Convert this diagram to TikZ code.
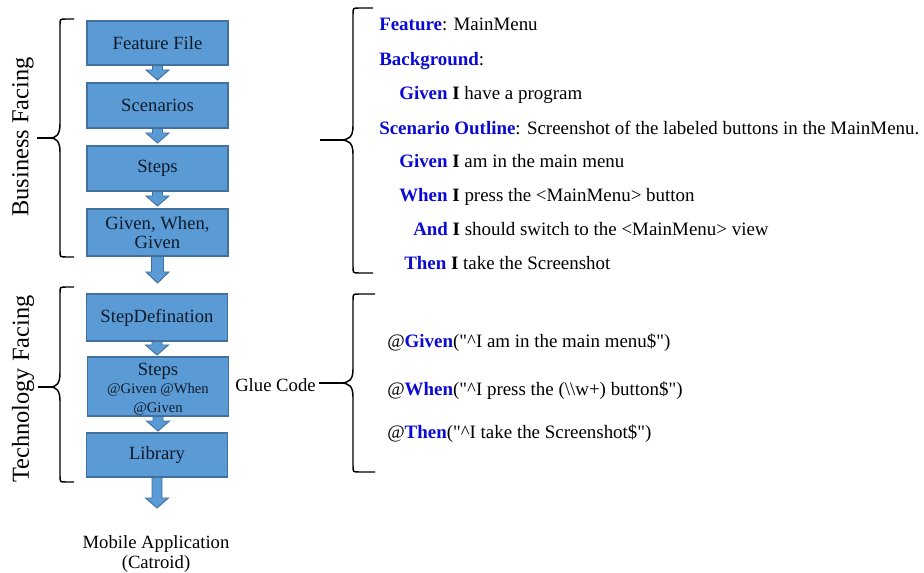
\documentclass[tikz,border=0pt]{standalone}
\usepackage{fontspec}
\setmainfont{Liberation Serif}
\newfontfamily\codefont[Ligatures=TeXOff]{Liberation Serif}
\usetikzlibrary{calc}
\definecolor{boxfill}{HTML}{5B9BD5}
\definecolor{boxline}{HTML}{41719C}
\definecolor{kw}{RGB}{10,10,210}
\definecolor{boxtext}{HTML}{0F1A2A}
\newcommand\kwd[1]{\textcolor{kw}{\textbf{#1}}}
\newcommand\qd{\symbol{34}}
\newcommand\blockarrow[5]{%
  \path[barrow] let \p1=(#1), \p2=(#2) in
   (\x1-#3*0.75pt,\y1) -- (\x1-#3*0.75pt,\y2+#5*0.75pt) -- (\x1-#4*0.75pt,\y2+#5*0.75pt)
   -- (\x1,\y2) -- (\x1+#4*0.75pt,\y2+#5*0.75pt) -- (\x1+#3*0.75pt,\y2+#5*0.75pt)
   -- (\x1+#3*0.75pt,\y1) -- cycle;}
% #1 xr, #2 xv, #3 xt, #4 tail, #5 yt, #6 ym, #7 yb
\newcommand\curlyb[7]{%
  \draw[bracepath] (#1,#5) -- (#2+6,#5) .. controls (#2,#5) .. (#2,#5+6)
    -- (#2,#6-14) .. controls (#2,#6-3) and (#2-4,#6) .. (#3,#6)
    .. controls (#2-4,#6) and (#2,#6+3) .. (#2,#6+14)
    -- (#2,#7-6) .. controls (#2,#7) .. (#2+6,#7) -- (#1,#7);
  \draw[bracepath] (#3,#6) -- (#4,#6);}
\tikzset{
  box/.style={draw=boxline, fill=boxfill, line width=0.9pt, minimum width=105.75pt,
    text=boxtext, font=\fontsize{14}{16}\selectfont, align=center, inner sep=0pt},
  barrow/.style={draw=boxline, fill=boxfill, line width=0.7pt},
  bracepath/.style={draw=black, line width=1.1pt},
  code/.style={anchor=base west, inner sep=0pt, font=\codefont\fontsize{14.2}{16}\selectfont},
  side/.style={rotate=90, inner sep=0pt, font=\fontsize{18.3}{20}\selectfont},
  plain/.style={inner sep=0pt, font=\fontsize{14}{16}\selectfont}
}
\begin{document}
\begin{tikzpicture}[x=0.75pt,y=-0.75pt]
\useasboundingbox (0,0) rectangle (924,573);
% boxes
\node[box, minimum height=33pt] (ff) at (157.5,43) {Feature File};
\node[box, minimum height=33.75pt] (sc) at (157.5,105.5) {Scenarios};
\node[box, minimum height=33.75pt] (st) at (157.5,168.5) {Steps};
\node[box, minimum height=35.25pt] (gwg) at (157.5,232.5) {Given, When,\\[-2pt]Given};
\node[box, minimum height=35.25pt] (sd) at (157,317.5) {StepDefination};
\node[box, minimum height=44.25pt] (st2) at (158,386.5) {};
\node[plain, anchor=base, text=boxtext] (st2a) at (158,375) {Steps};
\node[plain, anchor=base, text=boxtext, font=\fontsize{11}{12}\selectfont] (st2b) at (158,393) {@Given @When};
\node[plain, anchor=base, text=boxtext, font=\fontsize{11}{12}\selectfont] (st2c) at (158,412) {@Given};
\node[box, minimum height=33pt] (lib) at (157,455) {Library};
% arrows
\coordinate (t1) at (157.5,80);
\coordinate (t2) at (157.5,143);
\coordinate (t3) at (157.5,206);
\coordinate (t4) at (158,283);
\coordinate (t5) at (157,355);
\coordinate (t6) at (157,431);
\coordinate (t7) at (157,508);
\blockarrow{ff.south}{t1}{5}{11.5}{10}
\blockarrow{sc.south}{t2}{5}{11.5}{10}
\blockarrow{st.south}{t3}{5}{11.5}{10}
\blockarrow{gwg.south}{t4}{6}{11.5}{11}
\blockarrow{sd.south}{t5}{5}{11.5}{10}
\blockarrow{st2.south}{t6}{5}{11.5}{10}
\blockarrow{lib.south}{t7}{5}{11.5}{10}
\node[plain, anchor=base] (mob) at (156,548) {Mobile Application};
\node[plain, anchor=base] (cat) at (156,568) {(Catroid)};
% side labels
\node[side] (bf) at (23,137) {Business Facing};
\node[side] (tf) at (23,389) {Technology Facing};
\curlyb{74}{60}{50}{37}{19}{138}{257}
\curlyb{74}{60}{50}{38}{287}{387}{482}
% right braces
\curlyb{373}{353}{340}{320}{8}{140}{273}
\node[plain, anchor=base west] (glue) at (235,392) {Glue Code};
\curlyb{375}{353}{340}{319}{294}{383}{472}
% gherkin text
\node[code] (l1) at (379,31) {\kwd{Feature}: MainMenu};
\node[code] (l2) at (379,66) {\kwd{Background}:};
\node[code] (l3) at (399,100) {\kwd{Given} \textbf{I} have a program};
\node[code] (l4) at (379,135) {\kwd{Scenario Outline}: Screenshot of the labeled buttons in the MainMenu.};
\node[code] (l5) at (399,168) {\kwd{Given} \textbf{I} am in the main menu};
\node[code] (l6) at (399,202) {\kwd{When} \textbf{I} press the <MainMenu> button};
\node[code] (l7) at (413,236) {\kwd{And} \textbf{I} should switch to the <MainMenu> view};
\node[code] (l8) at (404,270) {\kwd{Then} \textbf{I} take the Screenshot};
% glue code text
\node[code] (g1) at (387,348) {@\kwd{Given}(\qd\textasciicircum I am in the main menu\$\qd)};
\node[code] (g2) at (387,395) {@\kwd{When}(\qd\textasciicircum I press the (\textbackslash\textbackslash w+) button\$\qd)};
\node[code] (g3) at (387,438) {@\kwd{Then}(\qd\textasciicircum I take the Screenshot\$\qd)};
\end{tikzpicture}
\end{document}
